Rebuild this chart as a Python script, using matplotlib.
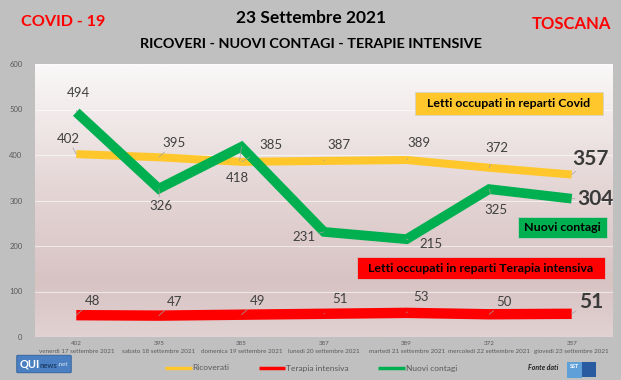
import numpy as np
import matplotlib
matplotlib.use("Agg")
import matplotlib.pyplot as plt
from matplotlib.patches import Rectangle, FancyBboxPatch
from matplotlib.colors import LinearSegmentedColormap

plt.rcParams['font.family'] = ['Lato', 'DejaVu Sans']

dates = ["venerdì 17 settembre 2021", "sabato 18 settembre 2021", "domenica 19 settembre 2021",
         "lunedì 20 settembre 2021", "martedì 21 settembre 2021", "mercoledì 22 settembre 2021",
         "giovedì 23 settembre 2021"]
ricoverati = [402, 395, 385, 387, 389, 372, 357]
terapia = [48, 47, 49, 51, 53, 50, 51]
contagi = [494, 326, 418, 231, 215, 325, 304]
yticks = [0, 100, 200, 300, 400, 500, 600]

# label offsets in pixels (dx, dy)
ric_off = [(-8, 15), (15, 14), (30, 17), (15, 16), (12, 17), (8, 20), (19, 16)]
con_off = [(2, 19), (2, -17), (-4, -31), (-20, -5), (24, -5), (7, -21), (24, 0)]
ter_off = [(16, 14), (16, 14), (16, 14), (16, 15), (14, 16), (15, 12), (19, 12)]

YEL = '#FFC72C'
RED = '#FF0000'
GRN = '#00B050'
GRAY_T = '#404040'

fig = plt.figure(figsize=(6.21, 3.80), dpi=100, facecolor='#c0c0c0')
L, R, T, B = 35, 613, 64, 337
ax = fig.add_axes([L / 621, 1 - B / 380, (R - L) / 621, (B - T) / 380])
ax.set_facecolor('none')

# gradient background
cmap = LinearSegmentedColormap.from_list('bg', [(0, '#faf8f8'), (0.45, '#e5d6d6'), (0.8, '#d8c3c3'), (1.0, '#e1d2d2')])
grad = np.linspace(0, 1, 256).reshape(-1, 1)
ax.imshow(grad, cmap=cmap, aspect='auto', extent=(0, 1, 0, 1), transform=ax.transAxes, zorder=0)

x = np.arange(len(dates))
ax.set_xlim(-0.5, len(dates) - 0.5)
ax.set_ylim(0, 600)
ax.set_yticks(yticks)
ax.set_yticklabels([str(v) for v in yticks], fontsize=5.5, color='#595959')
ax.set_xticks(x)
ax.set_xticklabels([f"{v}\n{d}" for v, d in zip(ricoverati, dates)], fontsize=4.5, color='#595959',
                   linespacing=1.6)
ax.tick_params(length=0, pad=3)
ax.tick_params(axis='y', pad=9)
for s in ax.spines.values():
    s.set_visible(False)
ax.grid(axis='y', color='#ffffff', lw=0.8, alpha=0.6, zorder=1)

ax.plot(x, ricoverati, color=YEL, lw=5.8, solid_joinstyle='miter', solid_capstyle='butt', zorder=3, label='Ricoverati')
ax.plot(x, terapia, color=RED, lw=7.5, solid_joinstyle='miter', solid_capstyle='butt', zorder=3, label='Terapia intensiva')
ax.plot(x, contagi, color=GRN, lw=7.0, solid_joinstyle='miter', solid_capstyle='butt', zorder=4, label='Nuovi contagi')

def labels(vals, offs):
    n = len(vals)
    for i, (v, (dx, dy)) in enumerate(zip(vals, offs)):
        last = i == n - 1
        ax.annotate(str(v), (i, v), xytext=(dx, dy), textcoords='offset pixels',
                    ha='center', va='center',
                    fontsize=15 if last else 9.5, fontweight='bold' if last else 'normal',
                    color=GRAY_T if not last else '#3a3a3a', zorder=6,
                    arrowprops=dict(arrowstyle='-', color='#a0a0a0', lw=0.5, shrinkA=6, shrinkB=0))

labels(ricoverati, ric_off)
labels(contagi, con_off)
labels(terapia, ter_off)

# text boxes
def box(x0, y0, x1, y1, color, text):
    fig.patches.append(Rectangle((x0 / 621, 1 - y1 / 380), (x1 - x0) / 621, (y1 - y0) / 380,
                                 transform=fig.transFigure, facecolor=color, edgecolor='#d0d0d0', lw=0.5, zorder=10))
    fig.text((x0 + x1) / 2 / 621, 1 - (y0 + y1) / 2 / 380, text, ha='center', va='center',
             fontsize=8.9, fontweight='bold', color='black', zorder=11)

box(415, 92, 603, 115, YEL, "Letti occupati in reparti Covid")
box(518, 217, 607, 238, GRN, "Nuovi contagi")
box(357, 257, 605, 279, RED, "Letti occupati in reparti Terapia intensiva")

# titles
fig.text(311 / 621, 1 - 18 / 380, "23 Settembre 2021", ha='center', va='center', fontsize=12.5, fontweight='bold', color='black')
fig.text(311 / 621, 1 - 44 / 380, "RICOVERI - NUOVI CONTAGI - TERAPIE INTENSIVE", ha='center', va='center',
         fontsize=10.4, fontweight='bold', color='black')
fig.text(63 / 621, 1 - 22 / 380, "COVID - 19", ha='center', va='center', fontsize=11.6, fontweight='bold', color='#FF0000')
fig.text(571 / 621, 1 - 24 / 380, "TOSCANA", ha='center', va='center', fontsize=12, fontweight='bold', color='#FF0000')

# legend
leg = fig.legend(loc='center', bbox_to_anchor=(311 / 621, 1 - 368 / 380), ncol=3, frameon=False,
                 fontsize=6, handlelength=3.2, columnspacing=3.5, handletextpad=0.1)
for t in leg.get_texts():
    t.set_color('#595959')
for h in leg.legend_handles:
    h.set_linewidth(2.5)

# logos
fig.patches.append(FancyBboxPatch((18 / 621, 1 - 372 / 380), 52 / 621, 16 / 380, boxstyle='round,pad=0.002',
                                  transform=fig.transFigure, facecolor='#4a7fc1', edgecolor='#2f5f9a', lw=0.6))
fig.text(20 / 621, 1 - 364 / 380, "QUI", fontsize=8, fontweight='bold', color='white', va='center', ha='left')
fig.text(40 / 621, 1 - 365 / 380, "news", fontsize=5.5, fontweight='bold', color='#1f3f6a', va='center', ha='left')
fig.text(58 / 621, 1 - 365 / 380, ".net", fontsize=4.5, color='#d8e6f5', va='center', ha='left')
fig.text(543 / 621, 1 - 368 / 380, "Fonte dati", fontsize=5, fontstyle='italic', fontweight='bold', color='#202020',
         va='center', ha='center')
fig.patches.append(Rectangle((567 / 621, 1 - 378 / 380), 15 / 621, 16 / 380, transform=fig.transFigure,
                             facecolor='#5fa0d8', edgecolor='none'))
fig.patches.append(Rectangle((582 / 621, 1 - 377 / 380), 14 / 621, 15 / 380, transform=fig.transFigure,
                             facecolor='#2a5aa0', edgecolor='none'))
fig.text(574.5 / 621, 1 - 367 / 380, "SST", fontsize=4, fontweight='bold', color='white', va='center', ha='center')

fig.savefig('out.png', dpi=100, facecolor=fig.get_facecolor())
